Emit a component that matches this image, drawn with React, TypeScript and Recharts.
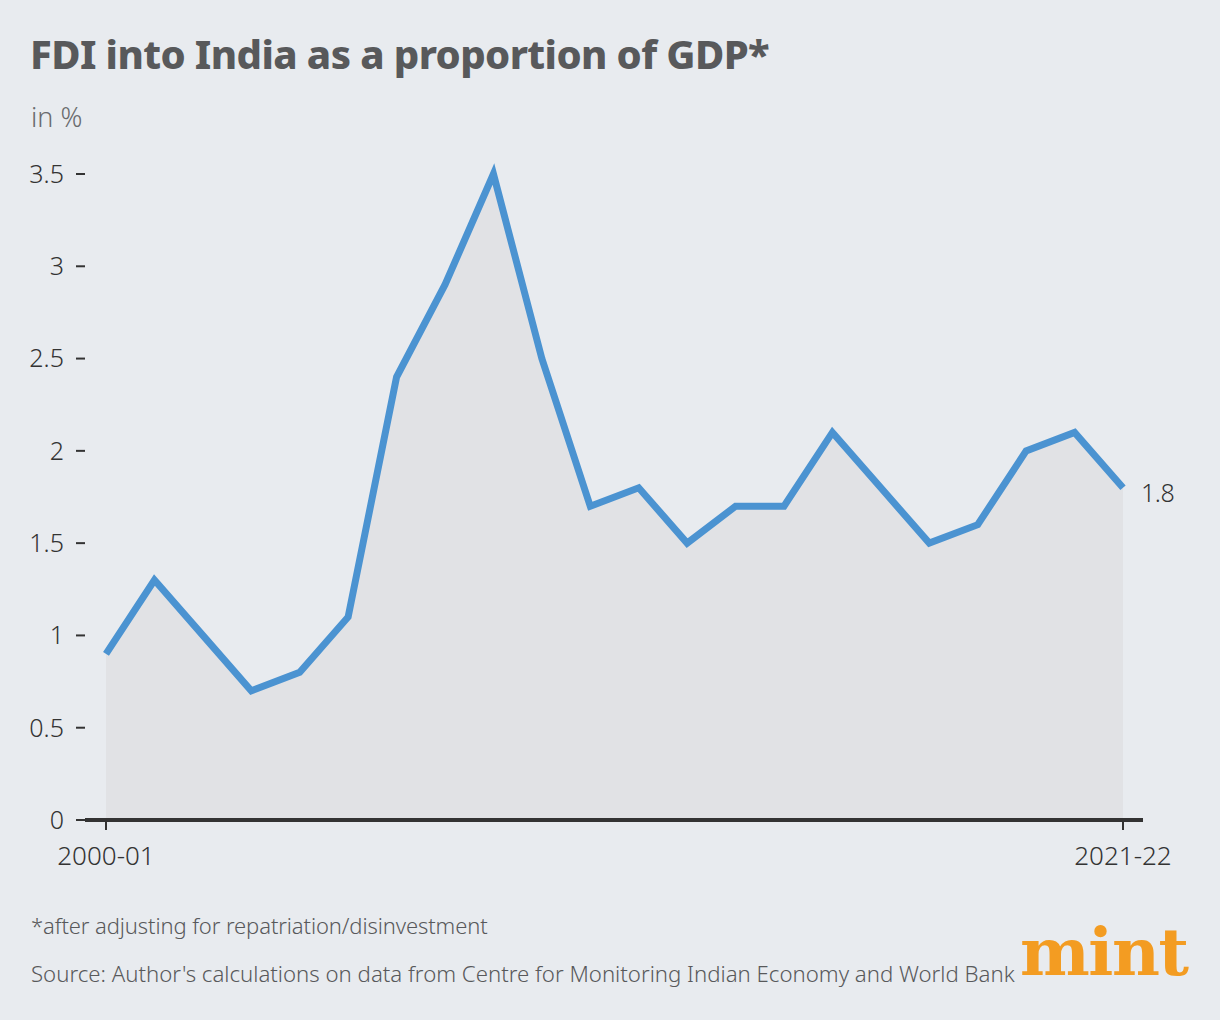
import { AreaChart, Area, XAxis, YAxis } from "recharts";

const years = [
  "2000-01", "2001-02", "2002-03", "2003-04", "2004-05", "2005-06",
  "2006-07", "2007-08", "2008-09", "2009-10", "2010-11", "2011-12",
  "2012-13", "2013-14", "2014-15", "2015-16", "2016-17", "2017-18",
  "2018-19", "2019-20", "2020-21", "2021-22",
];

const fdiShare = [
  0.9, 1.3, 1.0, 0.7, 0.8, 1.1, 2.4, 2.9, 3.5, 2.5, 1.7,
  1.8, 1.5, 1.7, 1.7, 2.1, 1.8, 1.5, 1.6, 2.0, 2.1, 1.8,
];

const xTicks = ["2000-01", "2021-22"];
const yTicks = [0, 0.5, 1, 1.5, 2, 2.5, 3, 3.5];

const data = years.map((year, i) => ({ year, value: fdiShare[i] }));

const FONT = "'Noto Sans', 'Open Sans', sans-serif";
const INK = "#333333";
const GREY = "#58595b";

export default function App() {
  const last = data.length - 1;

  return (
    <div
      style={{
        position: "absolute",
        left: 0,
        top: 0,
        width: 1220,
        height: 1020,
        background: "#e8ebef",
        fontFamily: FONT,
        overflow: "hidden",
      }}
    >
      {/* titre + unité */}
      <div style={{ position: "absolute", left: 30, top: 26, fontSize: 40, fontWeight: 800, color: GREY, letterSpacing: -0.6 }}>
        FDI into India as a proportion of GDP*
      </div>
      <div style={{ position: "absolute", left: 31, top: 98, fontSize: 27, fontWeight: 300, color: "#6a6b6e" }}>
        in %
      </div>

      <div style={{ position: "absolute", left: 0, top: 0 }}>
        <AreaChart width={1220} height={1020} data={data} margin={{ top: 174, right: 77, bottom: 140, left: 0 }}>
          <XAxis
            dataKey="year"
            ticks={xTicks}
            interval={0}
            padding={{ left: 21, right: 20 }}
            height={60}
            axisLine={{ stroke: INK, strokeWidth: 4 }}
            tickLine={{ stroke: INK, strokeWidth: 2 }}
            tickSize={10}
            tickMargin={17}
            tick={{ fill: INK, fontSize: 26, fontFamily: FONT, fontWeight: 300 }}
          />
          <YAxis
            type="number"
            domain={[0, 3.5]}
            ticks={yTicks}
            width={85}
            axisLine={false}
            tickLine={{ stroke: INK, strokeWidth: 2 }}
            tickSize={9}
            tickMargin={12}
            tick={{ fill: INK, fontSize: 25, fontFamily: FONT, fontWeight: 300 }}
          />
          <Area
            type="linear"
            dataKey="value"
            stroke="#4b93d1"
            strokeWidth={7}
            fill="#e1e2e5"
            fillOpacity={1}
            isAnimationActive={false}
            dot={false}
            activeDot={false}
            label={(props: any) =>
              props.index === last ? (
                <text
                  key="end-label"
                  x={props.x + 18}
                  y={props.y + 14}
                  fill={INK}
                  fontSize={25}
                  fontFamily={FONT}
                  fontWeight={300}
                  letterSpacing={-0.5}
                >
                  {props.value}
                </text>
              ) : null
            }
          />
        </AreaChart>
      </div>

      {/* notes */}
      <div style={{ position: "absolute", left: 31, top: 910, fontSize: 22, fontWeight: 300, color: GREY, letterSpacing: -0.1 }}>
        *after adjusting for repatriation/disinvestment
      </div>
      <div style={{ position: "absolute", left: 31, top: 958, fontSize: 22.2, fontWeight: 300, color: GREY }}>
        Source: Author's calculations on data from Centre for Monitoring Indian Economy and World Bank
      </div>
      <div
        style={{
          position: "absolute",
          left: 1020,
          top: 912,
          fontSize: 66,
          fontWeight: 700,
          fontFamily: "'DejaVu Serif', serif",
          color: "#f39c22",
          letterSpacing: -1.5,
          lineHeight: "80px",
        }}
      >
        mint
      </div>
    </div>
  );
}
